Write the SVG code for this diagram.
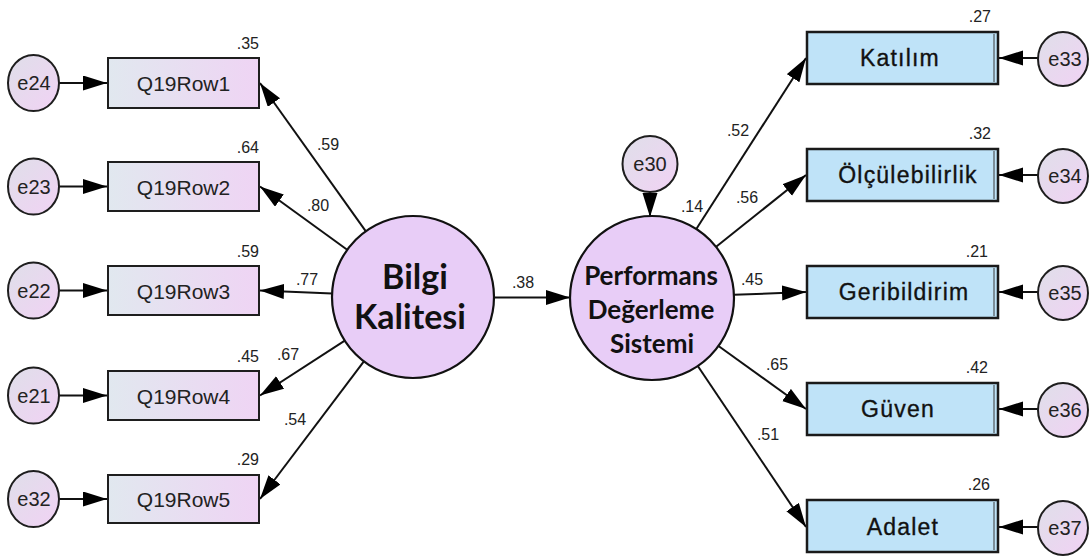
<svg xmlns="http://www.w3.org/2000/svg" width="1089" height="558" viewBox="0 0 1089 558">
  <style>
    .obs { fill: url(#obsFill); stroke: #1e1e1e; stroke-width: 2; }
    .ind { fill: #bfe3f8; stroke: #1a1a1a; stroke-width: 2.5; }
    .ind-in { fill: none; stroke: #3a3a3a; stroke-width: 1; }
    .err { fill: url(#errFill); stroke: #1e1e1e; stroke-width: 2; }
    .lat { fill: #e8cdf7; stroke: #111; stroke-width: 2.2; }
    .lbl { font-family: "Liberation Sans", Arial, sans-serif; font-size: 21px; fill: #222; text-anchor: middle; }
    .ilbl { font-family: "Liberation Sans", Arial, sans-serif; font-size: 23px; fill: #111; stroke: #111; stroke-width: 0.35; text-anchor: middle; letter-spacing: 1.2px; }
    .elbl { font-family: "Liberation Sans", Arial, sans-serif; font-size: 20px; fill: #222; text-anchor: middle; }
    .big { font-family: Lato, "Open Sans", sans-serif; font-weight: bold; fill: #111; text-anchor: middle; }
    .val { font-family: "Liberation Sans", Arial, sans-serif; font-size: 16px; fill: #222; }
    .r { text-anchor: end; }
    .c { text-anchor: middle; }
    #connectors line { stroke: #111; stroke-width: 2; fill: none; marker-end: url(#arrow); }
  </style>
  <defs>
    <linearGradient id="obsFill" x1="0" y1="0" x2="1" y2="0">
      <stop offset="0" stop-color="#e1e8ef"/>
      <stop offset="1" stop-color="#efd4f4"/>
    </linearGradient>
    <linearGradient id="errFill" x1="0" y1="0" x2="1" y2="1">
      <stop offset="0" stop-color="#dfdfe9"/>
      <stop offset="1" stop-color="#f1d2f4"/>
    </linearGradient>
    <marker id="arrow" markerUnits="userSpaceOnUse" markerWidth="26" markerHeight="16" refX="24" refY="7.5" orient="auto">
      <path d="M0,0 L24,7.5 L0,15 z" fill="#000"/>
    </marker>
  </defs>

  <!-- connectors -->
  <g id="connectors">
    <!-- error terms to observed items (left) -->
    <line x1="59" y1="83" x2="107" y2="83"/>
    <line x1="59" y1="186.5" x2="107" y2="186.5"/>
    <line x1="59" y1="290.5" x2="107" y2="290.5"/>
    <line x1="59" y1="395.5" x2="107" y2="395.5"/>
    <line x1="59" y1="499" x2="107" y2="499"/>
    <!-- loadings of Bilgi Kalitesi -->
    <line x1="365.7" y1="231.2" x2="260" y2="83"/>
    <line x1="347.2" y1="249.8" x2="260" y2="186.5"/>
    <line x1="332.1" y1="293.6" x2="260" y2="290.5"/>
    <line x1="344.8" y1="340.6" x2="260" y2="395.5"/>
    <line x1="363.9" y1="361.4" x2="260" y2="499"/>
    <!-- structural path -->
    <line x1="494" y1="297.5" x2="570" y2="297.5"/>
    <!-- disturbance -->
    <line x1="650" y1="192" x2="650" y2="217"/>
    <!-- loadings of Performans Değerleme Sistemi -->
    <line x1="696.3" y1="229" x2="806" y2="58"/>
    <line x1="716.1" y1="246.8" x2="806" y2="175"/>
    <line x1="733.9" y1="294.8" x2="806" y2="292"/>
    <line x1="718.5" y1="346" x2="806" y2="409"/>
    <line x1="697.8" y1="366" x2="806" y2="527"/>
    <!-- error terms to indicators (right) -->
    <line x1="1038" y1="58" x2="999" y2="58"/>
    <line x1="1038" y1="175" x2="999" y2="175"/>
    <line x1="1038" y1="292" x2="999" y2="292"/>
    <line x1="1038" y1="409" x2="999" y2="409"/>
    <line x1="1038" y1="527" x2="999" y2="527"/>
  </g>

  <!-- path coefficients -->
  <g id="coefficients">
    <text class="val c" x="328" y="150">.59</text>
    <text class="val c" x="318" y="211">.80</text>
    <text class="val c" x="307" y="285">.77</text>
    <text class="val c" x="288" y="360">.67</text>
    <text class="val c" x="295" y="425">.54</text>
    <text class="val c" x="523" y="288">.38</text>
    <text class="val c" x="692" y="212">.14</text>
    <text class="val c" x="738" y="136">.52</text>
    <text class="val c" x="747" y="203">.56</text>
    <text class="val c" x="752" y="285">.45</text>
    <text class="val c" x="777" y="370">.65</text>
    <text class="val c" x="768" y="440">.51</text>
  </g>

  <!-- observed items of Bilgi Kalitesi -->
  <g id="q19row1">
    <rect class="obs" x="108" y="58" width="151" height="50"/>
    <text class="lbl" x="183.5" y="91">Q19Row1</text>
    <text class="val r" x="259" y="49">.35</text>
  </g>
  <g id="q19row2">
    <rect class="obs" x="108" y="162" width="151" height="49"/>
    <text class="lbl" x="183.5" y="194.5">Q19Row2</text>
    <text class="val r" x="259" y="153">.64</text>
  </g>
  <g id="q19row3">
    <rect class="obs" x="108" y="266" width="151" height="49"/>
    <text class="lbl" x="183.5" y="298.5">Q19Row3</text>
    <text class="val r" x="259" y="257">.59</text>
  </g>
  <g id="q19row4">
    <rect class="obs" x="108" y="371" width="151" height="49"/>
    <text class="lbl" x="183.5" y="403.5">Q19Row4</text>
    <text class="val r" x="259" y="362">.45</text>
  </g>
  <g id="q19row5">
    <rect class="obs" x="108" y="475" width="151" height="48"/>
    <text class="lbl" x="183.5" y="507">Q19Row5</text>
    <text class="val r" x="259" y="465">.29</text>
  </g>

  <!-- error terms, left -->
  <g id="e24"><ellipse class="err" cx="33.5" cy="83" rx="25.5" ry="28"/><text class="elbl" x="34" y="90">e24</text></g>
  <g id="e23"><ellipse class="err" cx="33.5" cy="186.5" rx="25.5" ry="28"/><text class="elbl" x="34" y="193.5">e23</text></g>
  <g id="e22"><ellipse class="err" cx="33.5" cy="290.5" rx="25.5" ry="28"/><text class="elbl" x="34" y="297.5">e22</text></g>
  <g id="e21"><ellipse class="err" cx="33.5" cy="395.5" rx="25.5" ry="28"/><text class="elbl" x="34" y="402.5">e21</text></g>
  <g id="e32"><ellipse class="err" cx="33.5" cy="499" rx="25.5" ry="28"/><text class="elbl" x="34" y="506">e32</text></g>

  <!-- latent variables -->
  <g id="bilgi-kalitesi">
    <circle class="lat" cx="413" cy="297" r="81"/>
    <text class="big" x="415" y="289" font-size="34">Bilgi</text>
    <text class="big" x="410" y="329" font-size="34">Kalitesi</text>
  </g>
  <g id="performans">
    <circle class="lat" cx="652" cy="298" r="82"/>
    <text class="big" x="651" y="285" font-size="26">Performans</text>
    <text class="big" x="651" y="319" font-size="26">Değerleme</text>
    <text class="big" x="652" y="353" font-size="26">Sistemi</text>
  </g>
  <g id="e30">
    <ellipse class="err" cx="650" cy="164" rx="27.5" ry="28"/>
    <text class="elbl" x="650" y="171">e30</text>
  </g>

  <!-- indicators of Performans Değerleme Sistemi -->
  <g id="katilim">
    <rect class="ind" x="807" y="32" width="191" height="52"/>
    <line class="ind-in" x1="994" y1="34" x2="994" y2="82"/>
    <text class="ilbl" x="900" y="66">Katılım</text>
    <text class="val r" x="991" y="22">.27</text>
  </g>
  <g id="olculebilirlik">
    <rect class="ind" x="807" y="149" width="191" height="52"/>
    <line class="ind-in" x1="994" y1="151" x2="994" y2="199"/>
    <text class="ilbl" x="908" y="183">Ölçülebilirlik</text>
    <text class="val r" x="991" y="139">.32</text>
  </g>
  <g id="geribildirim">
    <rect class="ind" x="807" y="266" width="191" height="52"/>
    <line class="ind-in" x1="994" y1="268" x2="994" y2="316"/>
    <text class="ilbl" x="904" y="300">Geribildirim</text>
    <text class="val r" x="988" y="257">.21</text>
  </g>
  <g id="guven">
    <rect class="ind" x="807" y="383" width="191" height="52"/>
    <line class="ind-in" x1="994" y1="385" x2="994" y2="433"/>
    <text class="ilbl" x="898" y="417">Güven</text>
    <text class="val r" x="988" y="373">.42</text>
  </g>
  <g id="adalet">
    <rect class="ind" x="807" y="500" width="191" height="52"/>
    <line class="ind-in" x1="994" y1="502" x2="994" y2="550"/>
    <text class="ilbl" x="903" y="535">Adalet</text>
    <text class="val r" x="990" y="490">.26</text>
  </g>

  <!-- error terms, right -->
  <g id="e33"><ellipse class="err" cx="1063" cy="59" rx="25" ry="27"/><text class="elbl" x="1065" y="66">e33</text></g>
  <g id="e34"><ellipse class="err" cx="1063" cy="176" rx="25" ry="27"/><text class="elbl" x="1065" y="183">e34</text></g>
  <g id="e35"><ellipse class="err" cx="1063" cy="293" rx="25" ry="27"/><text class="elbl" x="1065" y="300">e35</text></g>
  <g id="e36"><ellipse class="err" cx="1063" cy="410" rx="25" ry="27"/><text class="elbl" x="1065" y="417">e36</text></g>
  <g id="e37"><ellipse class="err" cx="1063" cy="528" rx="25" ry="27"/><text class="elbl" x="1065" y="535">e37</text></g>
</svg>
